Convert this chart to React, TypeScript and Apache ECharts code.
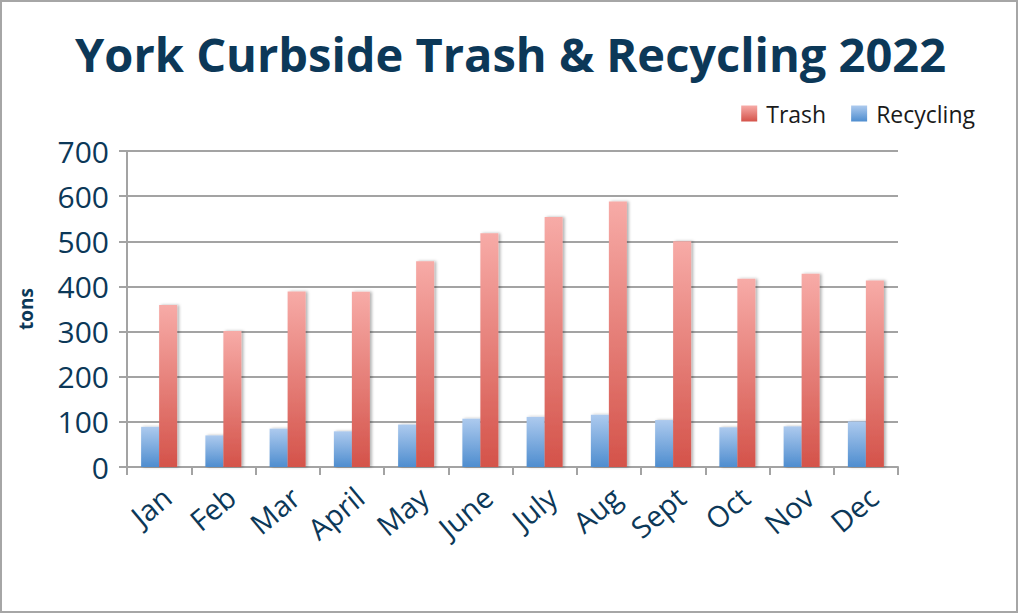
import React, { useEffect, useRef } from 'react';
import * as echarts from 'echarts';

const months = ['Jan', 'Feb', 'Mar', 'April', 'May', 'June', 'July', 'Aug', 'Sept', 'Oct', 'Nov', 'Dec'];
const trash = [359, 301, 389, 388, 456, 518, 554, 588, 500, 417, 428, 413];
const recycling = [89, 70, 85, 79, 94, 107, 111, 116, 104, 88, 90, 101];
const titleText = 'York Curbside Trash & Recycling 2022';
const yName = 'tons';

const NAVY = '#0c3858';
const GRID = '#a3a3a3';
const FONT = 'Open Sans';

export default function App() {
  const ref = useRef<HTMLDivElement>(null);
  useEffect(() => {
    document.body.style.margin = '0';
    const chart = echarts.init(ref.current!, null, { renderer: 'svg' });
    const grad = (top: string, bottom: string) =>
      new echarts.graphic.LinearGradient(0, 0, 0, 1, [
        { offset: 0, color: top },
        { offset: 1, color: bottom },
      ]);
    chart.setOption({
      animation: false,
      backgroundColor: '#ffffff',
      textStyle: { fontFamily: FONT },
      title: {
        text: titleText,
        left: 70,
        top: 25,
        textStyle: { fontFamily: FONT, fontWeight: 'bold', fontSize: 47, color: NAVY },
      },
      legend: {
        data: ['Trash', 'Recycling'],
        right: 38,
        top: 97,
        itemWidth: 16,
        itemHeight: 16,
        itemGap: 25,
        icon: 'rect',
        textStyle: { fontFamily: FONT, fontSize: 23, color: '#1a1a1a', padding: [0, 0, 0, 4] },
      },
      graphic: [
        {
          type: 'rect',
          shape: { x: 1, y: 1, width: 1016, height: 611 },
          style: { fill: 'none', stroke: '#a6a6a6', lineWidth: 2 },
          silent: true,
        },
      ],
      grid: {
        left: 127,
        right: 120,
        top: 151,
        bottom: 146,
        outerBoundsMode: 'none',
      },
      xAxis: {
        type: 'category',
        data: months,
        axisLine: { show: true, lineStyle: { color: GRID, width: 2 } },
        axisTick: { show: true, length: 8, lineStyle: { color: GRID, width: 2 } },
        axisLabel: {
          rotate: 40,
          margin: 32,
          padding: [0, -10, 0, 0],
          fontFamily: FONT,
          fontSize: 29,
          color: NAVY,
        },
      },
      yAxis: {
        type: 'value',
        min: 0,
        max: 700,
        interval: 100,
        name: yName,
        nameLocation: 'middle',
        nameGap: 92,
        nameRotate: 90,
        nameTextStyle: { fontFamily: FONT, fontWeight: 'bold', fontSize: 19, color: NAVY },
        axisLine: { show: true, lineStyle: { color: GRID, width: 2 } },
        axisTick: { show: true, length: 8, lineStyle: { color: GRID, width: 2 } },
        axisLabel: { margin: 18, fontFamily: FONT, fontSize: 30, color: NAVY },
        splitLine: { show: true, lineStyle: { color: GRID, width: 2 } },
      },
      series: [
        {
          name: 'Recycling',
          type: 'bar',
          data: recycling,
          barWidth: 18,
          barGap: '0%',
          itemStyle: {
            color: grad('#adcaee', '#4e8dcf'),
            shadowColor: 'rgba(0,0,0,0.3)',
            shadowBlur: 3,
            shadowOffsetX: 2,
          },
        },
        {
          name: 'Trash',
          type: 'bar',
          data: trash,
          barWidth: 18,
          barGap: '0%',
          itemStyle: {
            color: grad('#f7aba7', '#d4534a'),
            shadowColor: 'rgba(0,0,0,0.3)',
            shadowBlur: 3,
            shadowOffsetX: 2,
          },
        },
      ],
    });
    return () => chart.dispose();
  }, []);
  return <div ref={ref} style={{ position: 'absolute', left: 0, top: 0, width: 1018, height: 613 }} />;
}
